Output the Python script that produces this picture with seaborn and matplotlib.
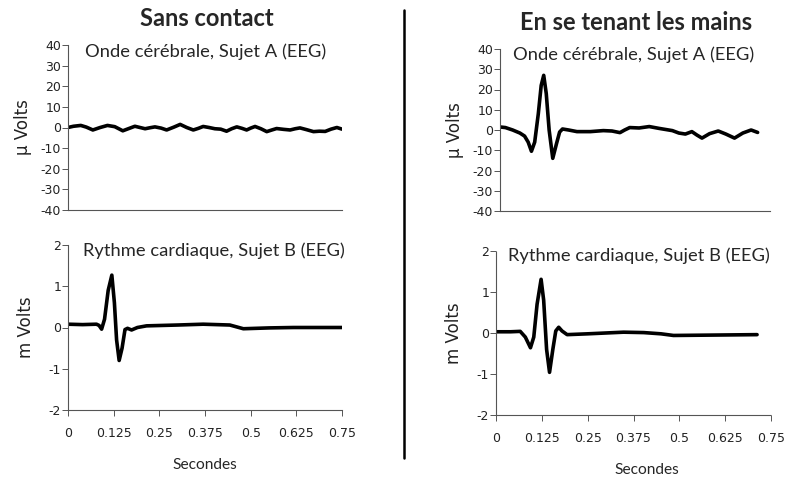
import numpy as np
import pandas as pd
import matplotlib
matplotlib.use("Agg")
import matplotlib.pyplot as plt
from matplotlib.lines import Line2D
import seaborn as sns

# ---------------------------------------------------- #
# données
eeg_sans_t = [0.000, 0.015, 0.035, 0.050, 0.068, 0.088, 0.108, 0.128, 0.150, 0.168,
              0.183, 0.197, 0.211, 0.225, 0.238, 0.255, 0.270, 0.290, 0.307, 0.325,
              0.343, 0.357, 0.370, 0.386, 0.402, 0.418, 0.434, 0.448, 0.462, 0.476,
              0.489, 0.500, 0.512, 0.528, 0.544, 0.558, 0.571, 0.590, 0.608, 0.622,
              0.635, 0.652, 0.672, 0.688, 0.704, 0.720, 0.736, 0.750]
eeg_sans_v = [0.0, 0.6, 1.0, 0.2, -1.2, 0.0, 1.0, 0.4, -1.6, -0.4,
              0.6, 0.0, -0.6, -0.1, 0.3, -0.3, -1.2, 0.2, 1.5, 0.0,
              -1.2, -0.4, 0.5, 0.0, -0.6, -0.8, -1.8, -0.6, 0.3, -0.4,
              -1.2, -0.3, 0.5, -0.6, -2.0, -1.2, -0.5, -0.9, -1.2, -0.6,
              -0.2, -1.0, -2.0, -1.8, -1.9, -0.8, 0.0, -0.8]

eeg_mains_t = [0.000, 0.015, 0.035, 0.055, 0.068, 0.078, 0.087, 0.096, 0.106, 0.114,
               0.121, 0.128, 0.136, 0.146, 0.156, 0.165, 0.173, 0.190, 0.213, 0.250,
               0.286, 0.310, 0.332, 0.345, 0.359, 0.385, 0.413, 0.440, 0.477, 0.495,
               0.513, 0.531, 0.545, 0.559, 0.580, 0.604, 0.625, 0.649, 0.672, 0.695,
               0.713]
eeg_mains_v = [1.5, 1.2, 0.0, -1.5, -3.0, -6.0, -10.5, -6.0, 8.0, 22.0,
               27.0, 18.0, 0.0, -14.0, -7.0, -1.0, 0.5, 0.0, -0.8, -0.8,
               -0.3, -0.5, -1.3, 0.0, 1.2, 1.0, 1.7, 0.8, -0.3, -1.5,
               -2.0, -0.8, -2.5, -4.0, -1.8, -0.5, -2.0, -4.0, -1.5, 0.0,
               -1.2]

coeur_sans_t = [0.000, 0.040, 0.078, 0.085, 0.092, 0.100, 0.110, 0.120, 0.127, 0.133,
                0.140, 0.148, 0.156, 0.163, 0.174, 0.190, 0.215, 0.300, 0.370, 0.443,
                0.480, 0.550, 0.617, 0.750]
coeur_sans_v = [0.08, 0.07, 0.08, 0.05, -0.04, 0.20, 0.90, 1.27, 0.60, -0.30,
                -0.80, -0.50, -0.05, -0.02, -0.06, 0.00, 0.04, 0.06, 0.08, 0.06,
                -0.03, -0.01, 0.00, 0.00]

coeur_mains_t = [0.000, 0.040, 0.066, 0.080, 0.094, 0.103, 0.112, 0.123, 0.130, 0.138,
                 0.146, 0.155, 0.163, 0.171, 0.180, 0.194, 0.250, 0.348, 0.403, 0.450,
                 0.484, 0.600, 0.712]
coeur_mains_v = [0.03, 0.03, 0.04, -0.10, -0.36, -0.10, 0.70, 1.31, 0.80, -0.40,
                 -0.96, -0.40, 0.05, 0.14, 0.05, -0.04, -0.02, 0.02, 0.01, -0.02,
                 -0.06, -0.05, -0.04]

x_ticks = [0, 0.125, 0.25, 0.375, 0.5, 0.625, 0.75]
x_labels = ["0", "0.125", "0.25", "0.375", "0.5", "0.625", "0.75"]
eeg_ticks = [40, 30, 20, 10, 0, -10, -20, -30, -40]
coeur_ticks = [2, 1, 0, -1, -2]

# ---------------------------------------------------- #
sns.set_style("ticks")
plt.rcParams['font.family'] = ['DejaVu Sans']
plt.rcParams['axes.unicode_minus'] = False

fig = plt.figure(figsize=(7.87, 4.78), dpi=100)
W, H = 787, 478

def box(x0, x1, ytop, ybot):
    return [x0 / W, 1 - ybot / H, (x1 - x0) / W, (ybot - ytop) / H]

ax_tl = fig.add_axes(box(68, 342, 45, 210))
ax_bl = fig.add_axes(box(68, 342, 245, 410))
ax_tr = fig.add_axes(box(500, 771, 49, 211))
ax_br = fig.add_axes(box(496, 771, 251, 415))

traces = [
    (ax_tl, eeg_sans_t, eeg_sans_v),
    (ax_tr, eeg_mains_t, eeg_mains_v),
    (ax_bl, coeur_sans_t, coeur_sans_v),
    (ax_br, coeur_mains_t, coeur_mains_v),
]
for ax, t, v in traces:
    df = pd.DataFrame({'t': t, 'v': v})
    sns.lineplot(data=df, x='t', y='v', ax=ax, color='black', linewidth=2.6,
                 solid_joinstyle='round', solid_capstyle='round')

gris = '#555555'
for ax in [ax_tl, ax_bl, ax_tr, ax_br]:
    ax.set_xlim(0, 0.75)
    ax.spines['top'].set_visible(False)
    ax.spines['right'].set_visible(False)
    for s in ['left', 'bottom']:
        ax.spines[s].set_linestyle((0, (3, 1)))
        ax.spines[s].set_linewidth(0.8)
        ax.spines[s].set_color(gris)
    ax.tick_params(axis='both', length=4, width=0.7, color=gris,
                   labelsize=9, labelcolor='#222222', pad=1)
    ax.set_xlabel('')

for ax in [ax_tl, ax_tr]:
    ax.set_ylim(-40, 40)
    ax.set_yticks(eeg_ticks)
    ax.set_xticks([])
    ax.set_ylabel('µ Volts', fontsize=12, color='#222222', labelpad=6)

for ax in [ax_bl, ax_br]:
    ax.set_ylim(-2, 2)
    ax.set_yticks(coeur_ticks)
    ax.set_xticks(x_ticks)
    ax.set_xticklabels(x_labels)
    ax.tick_params(axis='x', pad=8)
    ax.set_ylabel('m Volts', fontsize=12, color='#222222', labelpad=10)

sous = dict(fontsize=13.2, family=['Lato', 'DejaVu Sans'], va='center', ha='left')
ax_tl.text(0.062, 0.958, 'Onde cérébrale, Sujet A (EEG)', transform=ax_tl.transAxes, **sous)
ax_tr.text(0.048, 0.965, 'Onde cérébrale, Sujet A (EEG)', transform=ax_tr.transAxes, **sous)
ax_bl.text(0.055, 0.965, 'Rythme cardiaque, Sujet B (EEG)', transform=ax_bl.transAxes, **sous)
ax_br.text(0.045, 0.974, 'Rythme cardiaque, Sujet B (EEG)', transform=ax_br.transAxes, **sous)

titre = dict(fontsize=17, fontweight='bold', family=['Lato', 'DejaVu Sans'], ha='center', va='center')
fig.text(207 / W, 1 - 19 / H, 'Sans contact', **titre)
fig.text(636 / W, 1 - 23 / H, 'En se tenant les mains', **titre)

fig.text(205 / W, 1 - 465 / H, 'Secondes', fontsize=11.2, family=['Lato', 'DejaVu Sans'], ha='center', va='center')
fig.text(647 / W, 1 - 470 / H, 'Secondes', fontsize=11.2, family=['Lato', 'DejaVu Sans'], ha='center', va='center')

# trait de séparation
fig.add_artist(Line2D([404 / W, 404 / W], [1 - 10 / H, 1 - 458 / H], color='black', linewidth=1.8))

fig.savefig('out.png', dpi=100)
